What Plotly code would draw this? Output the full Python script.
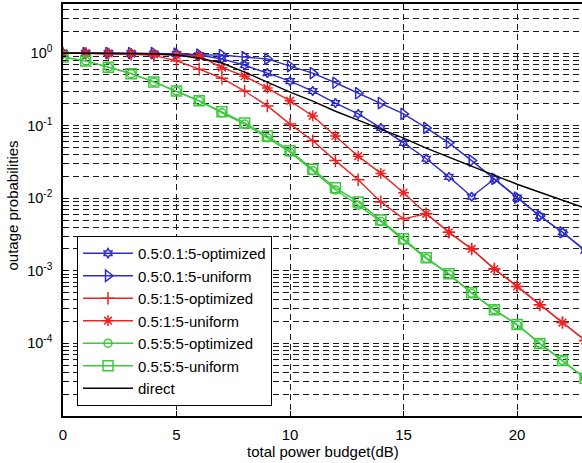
import plotly.graph_objects as go

# ---------------- data ----------------
snr_db = list(range(0, 24))

blue_opt = [1.0, 1.0, 1.0, 0.99, 0.98, 0.97, 0.94, 0.83, 0.68, 0.53, 0.41, 0.30,
            0.205, 0.145, 0.093, 0.058, 0.035, 0.0197, 0.0105, 0.0185, 0.0102,
            0.0057, 0.0034, 0.0019]
blue_uni = [1.0, 1.0, 1.0, 1.0, 1.0, 0.98, 0.95, 0.94, 0.88, 0.83, 0.66, 0.53,
            0.39, 0.28, 0.205, 0.145, 0.093, 0.058, 0.033, 0.0185, 0.0102,
            0.0057, 0.0034, 0.0019]
red_opt = [1.0, 0.99, 0.98, 0.96, 0.93, 0.78, 0.60, 0.45, 0.30, 0.187, 0.105,
           0.062, 0.033, 0.018, 0.0089, 0.0052, 0.0061, 0.0034, 0.0020, 0.00106,
           0.00061, 0.00034, 0.000194, 0.00011]
red_uni = [1.0, 1.0, 0.99, 0.98, 0.96, 0.93, 0.91, 0.63, 0.48, 0.33, 0.22, 0.136,
           0.072, 0.038, 0.022, 0.0119, 0.0061, 0.0034, 0.0020, 0.00106, 0.00061,
           0.00034, 0.000194, 0.00011]
green_opt = [0.88, 0.78, 0.64, 0.52, 0.40, 0.30, 0.22, 0.15, 0.105, 0.068, 0.043,
             0.024, 0.0130, 0.0080, 0.0048, 0.00265, 0.00148, 0.00089, 0.00049,
             0.00029, 0.000180, 0.0001, 5.8e-5, 3.3e-5]
green_uni = [0.88, 0.78, 0.64, 0.52, 0.40, 0.30, 0.22, 0.155, 0.109, 0.072, 0.045,
             0.025, 0.0139, 0.0089, 0.0050, 0.00277, 0.00151, 0.00091, 0.00050,
             0.00029, 0.000182, 0.0001, 5.8e-5, 3.3e-5]
direct = [1.0, 1.0, 1.0, 0.99, 0.98, 0.94, 0.85, 0.73, 0.547, 0.398, 0.290, 0.218,
          0.158, 0.119, 0.0895, 0.0673, 0.049, 0.0368, 0.0277, 0.0208, 0.0156,
          0.0121, 0.0094, 0.0073]

names = ["0.5:0.1:5-optimized", "0.5:0.1:5-uniform", "0.5:1:5-optimized",
         "0.5:1:5-uniform", "0.5:5:5-optimized", "0.5:5:5-uniform", "direct"]
x_ticks = [0, 5, 10, 15, 20]
y_ticks = [1, 0.1, 0.01, 0.001, 0.0001]
y_tick_text = ["10<sup>0</sup>", "10<sup>-1</sup>", "10<sup>-2</sup>",
               "10<sup>-3</sup>", "10<sup>-4</sup>"]

# ---------------- styles ----------------
BLUE = "#2d2dcf"
RED = "#ee2222"
GREEN = "#3dc83d"

series = [
    (blue_opt, BLUE, "hexagram-open", 7),
    (blue_uni, BLUE, "triangle-right-open", 10),
    (red_opt, RED, "cross-thin-open", 9),
    (red_uni, RED, "asterisk-open", 9),
    (green_opt, GREEN, "circle-open", 8),
    (green_uni, GREEN, "square-open", 10),
    (direct, "black", None, 0),
]

fig = go.Figure()
for i, (vals, col, sym, sz) in enumerate(series):
    if sym is None:
        fig.add_trace(go.Scatter(x=snr_db, y=vals, mode="lines", name=names[i],
                                 legendgroup=str(i),
                                 line=dict(color=col, width=1.4)))
    else:
        fig.add_trace(go.Scatter(x=snr_db, y=vals, mode="lines+markers", name=names[i],
                                 legendgroup=str(i),
                                 line=dict(color=col, width=1.4),
                                 marker=dict(symbol=sym, size=sz, color=col,
                                             line=dict(color=col, width=1.5))))

minor_vals = [m * 10.0 ** e for e in range(-5, 1) for m in range(2, 10)]

fig.update_layout(
    width=582, height=463,
    margin=dict(l=63, r=0, t=4, b=47, autoexpand=False),
    paper_bgcolor="white", plot_bgcolor="white",
    font=dict(family="Liberation Sans, Arial, sans-serif", size=14, color="black"),
    showlegend=True,
    legend=dict(x=0.027, y=0.437, xanchor="left", yanchor="top",
                bgcolor="white", bordercolor="black", borderwidth=1,
                font=dict(size=15), tracegroupgap=0, itemwidth=50),
    xaxis=dict(range=[0, 22.86], tickvals=x_ticks, ticks="inside", ticklen=5,
               tickcolor="black", showline=True, linecolor="black", linewidth=1.5,
               mirror="ticks", showgrid=True, gridcolor="#1a1a1a", griddash="6px,4px",
               gridwidth=1, zeroline=False, ticklabelstandoff=4, automargin=False,
               tickfont=dict(size=15)),
    yaxis=dict(type="log", range=[-5, 0.676], tickvals=y_ticks, ticktext=y_tick_text,
               ticks="inside", ticklen=5, tickcolor="black", showline=True,
               linecolor="black", linewidth=1.5, mirror=False, automargin=False,
               showgrid=True, gridcolor="#1a1a1a", griddash="6px,4px", gridwidth=1,
               zeroline=False, ticklabelstandoff=6, tickfont=dict(size=14.5),
               minor=dict(tickmode="array", tickvals=minor_vals, ticks="inside",
                          ticklen=3, tickcolor="black", showgrid=True,
                          gridcolor="#1a1a1a", griddash="6px,4px", gridwidth=1)),
    annotations=[
        dict(text="total power budget(dB)", xref="paper", yref="paper",
             x=0.5, y=-0.085, xanchor="center", yanchor="middle", showarrow=False,
             font=dict(size=15)),
        dict(text="outage probabilities", xref="paper", yref="paper",
             x=-0.097, y=0.51, xanchor="center", yanchor="middle", showarrow=False,
             textangle=-90, font=dict(size=15)),
    ],
)

fig.write_html("out.html",
               config={"displayModeBar": False},
               post_script="document.body.style.margin='0px';")
